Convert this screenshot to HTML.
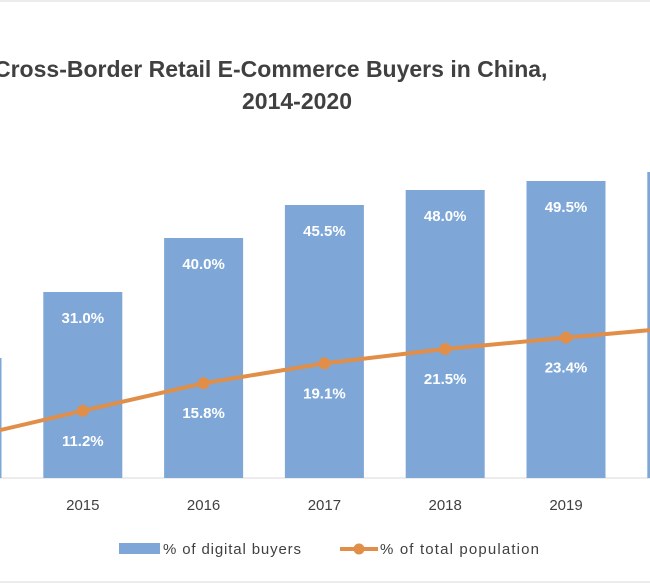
<!DOCTYPE html>
<html><head><meta charset="utf-8"><style>
html,body{margin:0;padding:0;background:#fff;}
svg{display:block;font-family:"Liberation Sans",sans-serif;}
</style></head><body>
<svg id="chart" width="650" height="585" viewBox="0 0 650 585">
<line x1="0" y1="1" x2="650" y2="1" stroke="#d9d9d9"/>
<line x1="0" y1="582" x2="650" y2="582" stroke="#d9d9d9"/>
<text x="-6" y="77" font-size="23" font-weight="bold" fill="#404040">Cross-Border Retail E-Commerce Buyers in China,</text>
<text x="297" y="109" text-anchor="middle" font-size="23" font-weight="bold" fill="#404040">2014-2020</text>
<line x1="0" y1="478" x2="650" y2="478" stroke="#d9d9d9"/>
<g id="bars"></g><g id="line"></g><g id="labels"></g>
<rect x="119" y="543" width="41" height="11" fill="#7ea7d8"/>
<text x="163" y="554" font-size="15" fill="#404040" textLength="138">% of digital buyers</text>
<line x1="340" y1="549" x2="378" y2="549" stroke="#e08e48" stroke-width="4"/>
<circle cx="359" cy="549" r="5.5" fill="#e08e48"/>
<text x="380" y="554" font-size="15" fill="#404040" textLength="159">% of total population</text>
</svg>
<script>
const years = ["2014","2015","2016","2017","2018","2019","2020"];
const digitalBuyers = [20.0,31.0,40.0,45.5,48.0,49.5,51.0];
const totalPopulation = [6.5,11.2,15.8,19.1,21.5,23.4,25.2];
const NS="http://www.w3.org/2000/svg";
const x = i => -38 + i*120.8;
const y = v => 478 - v*6.0;
function mk(t,a,p){const e=document.createElementNS(NS,t);for(const k in a)e.setAttribute(k,a[k]);p.appendChild(e);return e;}
const gB=document.getElementById('bars'),gL=document.getElementById('line'),gT=document.getElementById('labels');
years.forEach((yr,i)=>{
  const b=mk('rect',{x:x(i)-39.5,y:y(digitalBuyers[i]),width:79,height:478-y(digitalBuyers[i]),fill:'#7ea7d8'},gB);
  
  
  const t=mk('text',{x:x(i),y:y(digitalBuyers[i])+31,'text-anchor':'middle','font-size':'15','font-weight':'bold',fill:'#fff'},gT);
  t.textContent=digitalBuyers[i].toFixed(1)+'%';
  
  
  const t2=mk('text',{x:x(i),y:y(totalPopulation[i])+35,'text-anchor':'middle','font-size':'15','font-weight':'bold',fill:'#fff'},gT);
  t2.textContent=totalPopulation[i].toFixed(1)+'%';
  
  
  const xl=mk('text',{x:x(i),y:510,'text-anchor':'middle','font-size':'15',fill:'#404040'},gT);
  xl.textContent=yr;
  
  
});
let d='';
totalPopulation.forEach((v,i)=>{
  d+=(i===0?'M':' L')+x(i)+','+y(v);
});
const p=mk('path',{d:d,fill:'none',stroke:'#e08e48','stroke-width':4,'stroke-linejoin':'round'},gL);


totalPopulation.forEach((v,i)=>{
  const c=mk('circle',{cx:x(i),cy:y(v),r:6,fill:'#e08e48'},gL);
  
  
});
</script>
</body></html>
